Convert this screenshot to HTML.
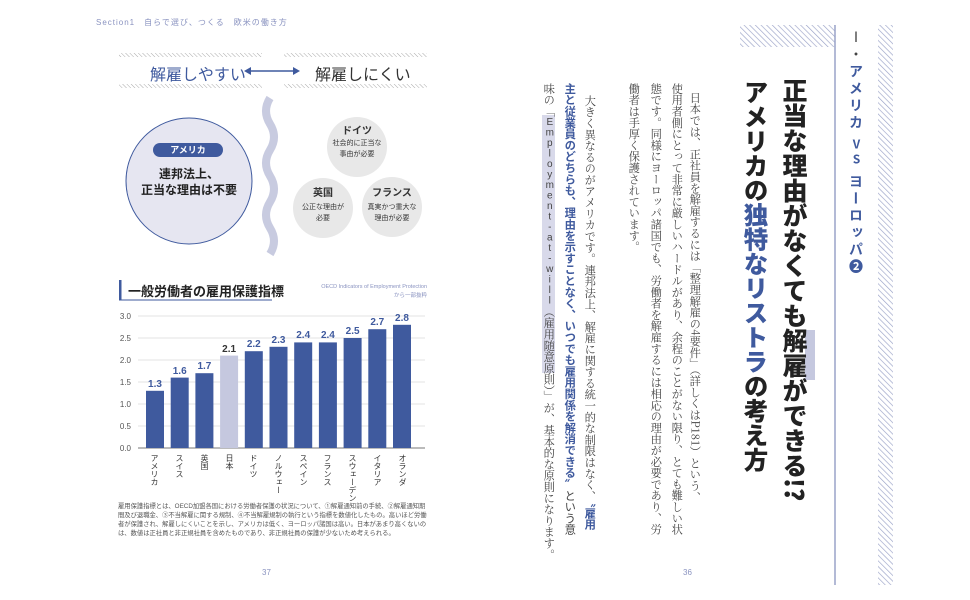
<!DOCTYPE html>
<html><head><meta charset="utf-8"><style>
body{margin:0;width:970px;height:600px;background:#fff;position:relative;overflow:hidden;font-family:"Liberation Sans","Noto Sans CJK JP",sans-serif;}
.v{position:absolute;writing-mode:vertical-rl;white-space:nowrap;line-height:1;}
.b{font-size:11.3px;color:#444;top:83px;font-family:"Noto Serif CJK SC","Noto Sans CJK JP",serif;}
.bb{color:#3f5a9e;font-weight:bold;font-family:"Noto Sans CJK JP",sans-serif;}
.up{text-orientation:upright;}
.abs{position:absolute;}
</style></head><body>
<svg width="970" height="600" style="position:absolute;left:0;top:0">
<defs>
<pattern id="h" width="4" height="4" patternUnits="userSpaceOnUse" patternTransform="rotate(-45)"><rect width="4" height="4" fill="#fff"/><line x1="0" y1="0" x2="0" y2="4" stroke="#9aa3c8" stroke-width="1.3"/></pattern>
<pattern id="hg" width="3" height="3" patternUnits="userSpaceOnUse" patternTransform="rotate(-45)"><line x1="0" y1="0" x2="0" y2="3" stroke="#aaa" stroke-width="1"/></pattern>
</defs>
<rect x="119" y="53" width="143" height="4" fill="url(#hg)"/>
<rect x="119" y="84" width="143" height="4" fill="url(#hg)"/>
<rect x="284" y="53" width="143" height="4" fill="url(#hg)"/>
<rect x="284" y="84" width="143" height="4" fill="url(#hg)"/>
<line x1="248" y1="71" x2="296" y2="71" stroke="#3f5a9e" stroke-width="1.5"/>
<polygon points="244,71 251,67 251,75" fill="#3f5a9e"/><polygon points="300,71 293,67 293,75" fill="#3f5a9e"/>
<path d="M270 98 q-8 13 0 26 q8 13 0 26 q-8 13 0 26 q8 13 0 26 q-8 13 0 26 q8 13 0 26" fill="none" stroke="#c8cbe0" stroke-width="8"/>
<circle cx="189" cy="181" r="63" fill="#e6e6f1" stroke="#3f5a9e" stroke-width="1"/>
<rect x="153" y="143" width="70" height="14" rx="7" fill="#3f5a9e"/>
<circle cx="357" cy="147" r="30" fill="#e8e8e8"/>
<circle cx="323" cy="208" r="30" fill="#e8e8e8"/>
<circle cx="392" cy="207" r="30" fill="#e8e8e8"/>
<rect x="119" y="280" width="2.5" height="20" fill="#3f5a9e"/>
<line x1="119" y1="300" x2="272" y2="300" stroke="#3f5a9e" stroke-width="1"/>
<g stroke="#e3e3e3" stroke-width="1">
<line x1="138" y1="316" x2="425" y2="316"/><line x1="138" y1="338" x2="425" y2="338"/><line x1="138" y1="360" x2="425" y2="360"/><line x1="138" y1="382" x2="425" y2="382"/><line x1="138" y1="404" x2="425" y2="404"/><line x1="138" y1="426" x2="425" y2="426"/>
</g>
<line x1="138" y1="448" x2="425" y2="448" stroke="#777" stroke-width="1"/>
<g font-size="8" fill="#555" text-anchor="end">
<text x="131" y="319">3.0</text><text x="131" y="341">2.5</text><text x="131" y="363">2.0</text><text x="131" y="385">1.5</text><text x="131" y="407">1.0</text><text x="131" y="429">0.5</text><text x="131" y="451">0.0</text>
</g>
<g fill="#3f5a9e">
<rect x="146" y="390.8" width="18" height="57.2"/>
<rect x="170.7" y="377.6" width="18" height="70.4"/>
<rect x="195.4" y="373.2" width="18" height="74.8"/>
<rect x="220.1" y="355.6" width="18" height="92.4" fill="#c5c8df"/>
<rect x="244.8" y="351.2" width="18" height="96.8"/>
<rect x="269.5" y="346.8" width="18" height="101.2"/>
<rect x="294.2" y="342.4" width="18" height="105.6"/>
<rect x="318.9" y="342.4" width="18" height="105.6"/>
<rect x="343.6" y="338" width="18" height="110"/>
<rect x="368.3" y="329.2" width="18" height="118.8"/>
<rect x="393" y="324.8" width="18" height="123.2"/>
</g>
<g font-size="10" font-weight="bold" fill="#3f5a9e" text-anchor="middle">
<text x="155" y="387">1.3</text><text x="179.7" y="374">1.6</text><text x="204.4" y="369">1.7</text><text x="229.1" y="352" fill="#333">2.1</text><text x="253.8" y="347">2.2</text><text x="278.5" y="343">2.3</text><text x="303.2" y="338">2.4</text><text x="327.9" y="338">2.4</text><text x="352.6" y="334">2.5</text><text x="377.3" y="325">2.7</text><text x="402" y="321">2.8</text>
</g>
<rect x="740" y="25" width="95" height="22" fill="url(#h)"/>
<line x1="835" y1="25" x2="835" y2="585" stroke="#9aa3c8" stroke-width="1.5"/>
<rect x="878" y="25" width="15" height="560" fill="url(#h)"/>
<rect x="805" y="330" width="10" height="50" fill="#c5c8df"/>
<rect x="542" y="115" width="13" height="258" fill="#d8d9ea"/>
</svg>

<div class="abs" style="left:96px;top:17px;font-size:8px;color:#8a93c0;letter-spacing:1px">Section1　自らで選び、つくる　欧米の働き方</div>
<div class="abs" style="left:150px;top:61px;font-size:16px;color:#3f5a9e">解雇しやすい</div>
<div class="abs" style="left:315px;top:61px;font-size:16px;color:#333">解雇しにくい</div>
<div class="abs" style="left:153px;top:143px;width:70px;text-align:center;font-size:9px;line-height:14px;color:#fff;font-weight:bold">アメリカ</div>
<div class="abs" style="left:129px;top:166px;width:120px;text-align:center;font-size:12px;line-height:16px;color:#222;font-weight:bold">連邦法上、<br>正当な理由は不要</div>
<div class="abs" style="left:327px;top:122px;width:60px;text-align:center;font-size:10px;color:#333;font-weight:bold">ドイツ</div>
<div class="abs" style="left:322px;top:138px;width:70px;text-align:center;font-size:7px;line-height:11px;color:#333">社会的に正当な<br>事由が必要</div>
<div class="abs" style="left:293px;top:184px;width:60px;text-align:center;font-size:10px;color:#333;font-weight:bold">英国</div>
<div class="abs" style="left:288px;top:202px;width:70px;text-align:center;font-size:7px;line-height:11px;color:#333">公正な理由が<br>必要</div>
<div class="abs" style="left:362px;top:184px;width:60px;text-align:center;font-size:10px;color:#333;font-weight:bold">フランス</div>
<div class="abs" style="left:355px;top:202px;width:74px;text-align:center;font-size:7px;line-height:11px;color:#333">真実かつ重大な<br>理由が必要</div>

<div class="abs" style="left:128px;top:281px;font-size:13px;color:#222;font-weight:bold">一般労働者の雇用保護指標</div>
<div class="abs" style="left:290px;top:283px;width:137px;text-align:right;font-size:5.5px;line-height:9px;color:#8a93c0">OECD Indicators of Employment Protection<br>から一部抜粋</div>
<div class="v" style="left:150px;top:454px;font-size:8px;color:#333">アメリカ</div>
<div class="v" style="left:175px;top:454px;font-size:8px;color:#333">スイス</div>
<div class="v" style="left:200px;top:454px;font-size:8px;color:#333">英国</div>
<div class="v" style="left:225px;top:454px;font-size:8px;color:#333">日本</div>
<div class="v" style="left:249px;top:454px;font-size:8px;color:#333">ドイツ</div>
<div class="v" style="left:274px;top:454px;font-size:8px;color:#333">ノルウェー</div>
<div class="v" style="left:299px;top:454px;font-size:8px;color:#333">スペイン</div>
<div class="v" style="left:323px;top:454px;font-size:8px;color:#333">フランス</div>
<div class="v" style="left:348px;top:454px;font-size:8px;color:#333">スウェーデン</div>
<div class="v" style="left:373px;top:454px;font-size:8px;color:#333">イタリア</div>
<div class="v" style="left:398px;top:454px;font-size:8px;color:#333">オランダ</div>
<div class="abs" style="left:118px;top:502px;width:310px;font-size:6.3px;line-height:9px;color:#555">雇用保護指標とは、OECD加盟各国における労働者保護の状況について、①解雇通知前の手続、②解雇通知期間及び退職金、③不当解雇に関する規制、④不当解雇規制の執行という指標を数値化したもの。高いほど労働者が保護され、解雇しにくいことを示し、アメリカは低く、ヨーロッパ諸国は高い。日本があまり高くないのは、数値は正社員と非正規社員を含めたものであり、非正規社員の保護が少ないため考えられる。</div>
<div class="abs" style="left:262px;top:568px;font-size:8px;color:#8a93c0">37</div>
<div class="abs" style="left:683px;top:568px;font-size:8px;color:#8a93c0">36</div>

<div class="v b" style="left:689px;top:92px">日本では、正社員を解雇するには「整理解雇の4要件」（詳しくはP181）という、</div>
<div class="v b" style="left:671px">使用者側にとって非常に厳しいハードルがあり、余程のことがない限り、とても難しい状</div>
<div class="v b" style="left:650px">態です。同様にヨーロッパ諸国でも、労働者を解雇するには相応の理由が必要であり、労</div>
<div class="v b" style="left:628px">働者は手厚く保護されています。</div>
<div class="v b" style="left:584px;top:95px">大きく異なるのがアメリカです。連邦法上、解雇に関する統一的な制限はなく、<span class="bb">〝雇用</span></div>
<div class="v b bb" style="left:564px">主と従業員のどちらも、理由を示すことなく、いつでも雇用関係を解消できる〟<span style="color:#444;font-weight:normal">という意</span></div>
<div class="v b" style="left:543px">味の「<span class="up" style="font-family:'Liberation Sans',sans-serif;font-size:10px;letter-spacing:-0.5px">Employment-at-will</span>（雇用随意原則）」が、基本的な原則になります。</div>

<div class="v" style="left:782px;top:78px;font-size:25px;font-weight:900;color:#222;font-family:'Noto Sans CJK JP',sans-serif">正当な理由がなくても解雇ができる!?</div>
<div class="v" style="left:743px;top:80px;font-size:24.5px;font-weight:900;color:#222;font-family:'Noto Sans CJK JP',sans-serif">アメリカの<span style="color:#3f5a9e">独特なリストラ</span>の考え方</div>
<div class="v" style="left:849px;top:30px;font-size:14px;font-weight:bold;color:#3f5a9e;line-height:1;letter-spacing:3px;font-family:'Noto Sans CJK JP',sans-serif"><span style="color:#444;font-weight:normal">Ⅰ・</span>アメリカ <span class="up" style="font-size:12px">VS</span> ヨーロッパ❷</div>
</body></html>
